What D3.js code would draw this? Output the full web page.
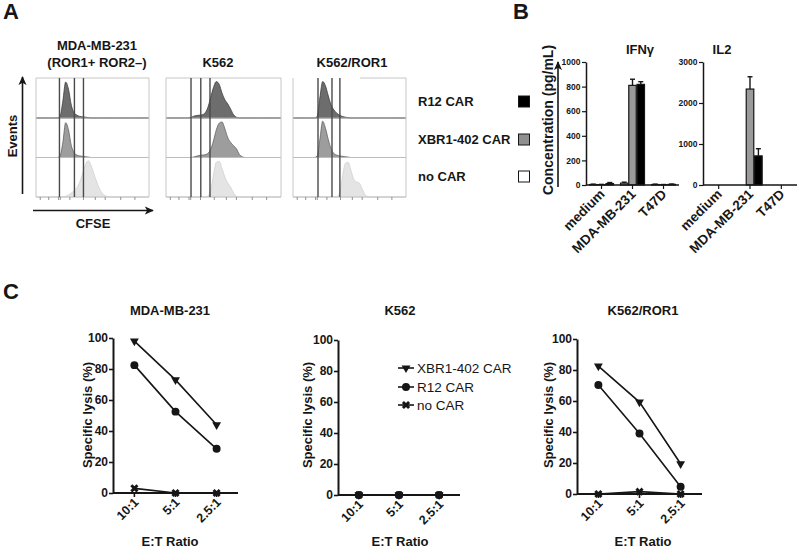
<!DOCTYPE html>
<html><head><meta charset="utf-8">
<script src="https://cdn.jsdelivr.net/npm/d3@7"></script>
<style>
body{margin:0;background:#fff}
svg{display:block}
</style></head><body>
<svg id="c" width="800" height="548"></svg>
<script>
// ================= DATA =================
// Panel A: CFSE dilution histograms (relative events per bin, 40 bins along CFSE axis)
const histTargets = ["MDA-MB-231", "K562", "K562/ROR1"];
const histRowLabels = ["R12 CAR", "XBR1-402 CAR", "no CAR"];
const histMDA_R12   = [0,0,0,0,0,0,0,0,0.04,0.42, 0.9,0.72,0.32,0.13,0.07,0.04,0.03,0.02,0.01,0, 0,0,0,0,0,0,0,0,0,0, 0,0,0,0,0,0,0,0,0,0];
const histMDA_XBR1  = [0,0,0,0,0,0,0,0,0.04,0.38, 0.88,0.7,0.3,0.12,0.06,0.04,0.03,0.02,0.01,0, 0,0,0,0,0,0,0,0,0,0, 0,0,0,0,0,0,0,0,0,0];
const histMDA_noCAR = [0,0,0,0,0,0,0,0,0,0, 0.02,0.05,0.1,0.16,0.24,0.38,0.6,0.82,0.92,0.8, 0.58,0.38,0.2,0.09,0.03,0.01,0,0,0,0, 0,0,0,0,0,0,0,0,0,0];
const histK562_R12  = [0,0,0,0,0,0,0,0,0.01,0.04, 0.06,0.07,0.08,0.12,0.25,0.5,0.76,0.91,0.84,0.62, 0.45,0.35,0.22,0.08,0.02,0,0,0,0,0, 0,0,0,0,0,0,0,0,0,0];
const histK562_XBR1 = [0,0,0,0,0,0,0,0,0,0.01, 0.03,0.05,0.06,0.07,0.1,0.2,0.42,0.7,0.87,0.9, 0.72,0.5,0.38,0.3,0.22,0.08,0.02,0,0,0, 0,0,0,0,0,0,0,0,0,0];
const histK562_noCAR= [0,0,0,0,0,0,0,0,0,0, 0,0,0,0,0.02,0.15,0.55,0.88,0.9,0.72, 0.5,0.35,0.25,0.1,0.02,0,0,0,0,0, 0,0,0,0,0,0,0,0,0,0];
const histROR1_R12  = [0,0,0,0,0,0,0,0,0.03,0.5, 0.91,0.8,0.55,0.32,0.2,0.12,0.07,0.04,0.02,0.01, 0,0,0,0,0,0,0,0,0,0, 0,0,0,0,0,0,0,0,0,0];
const histROR1_XBR1 = [0,0,0,0,0,0,0,0,0.03,0.45, 0.92,0.74,0.45,0.22,0.1,0.06,0.04,0.03,0.02,0.01, 0,0,0,0,0,0,0,0,0,0, 0,0,0,0,0,0,0,0,0,0];
const histROR1_noCAR= [0,0,0,0,0,0,0,0,0,0, 0,0,0,0,0,0.01,0.1,0.5,0.85,0.88, 0.68,0.45,0.38,0.35,0.2,0.06,0.01,0,0,0, 0,0,0,0,0,0,0,0,0,0];
const gatesMDA  = [8.3, 13.6, 16.8];
const gatesK562 = [8.7, 12.1, 15.3];
const gatesROR1 = [8.85, 13.8, 16.6];
const cfseTicks = [1.5, 4.5, 8.0, 8.6, 12, 16.8, 21, 24.5, 30, 35];

// Panel B: cytokine release (pg/mL)
const cytoCats = ["medium", "MDA-MB-231", "T47D"];
const cytoSeries = ["no CAR", "XBR1-402 CAR", "R12 CAR"];
const ifngNoCAR = [4, 15, 4];
const ifngXBR1  = [3, 810, 2];
const ifngR12   = [12, 818, 5];
const ifngErrNoCAR = [3, 8, 3];
const ifngErrXBR1  = [2, 50, 2];
const ifngErrR12   = [8, 22, 3];
const il2NoCAR = [0, 0, 0];
const il2XBR1  = [0, 2340, 0];
const il2R12   = [0, 710, 0];
const il2ErrNoCAR = [0, 0, 0];
const il2ErrXBR1  = [0, 300, 0];
const il2ErrR12   = [0, 175, 0];
const ifngTicks = [0, 200, 400, 600, 800, 1000];
const il2Ticks = [0, 1000, 2000, 3000];

// Panel C: specific lysis (%)
const etRatios = ["10:1", "5:1", "2.5:1"];
const lysisTicks = [0, 20, 40, 60, 80, 100];
const lysisMDA_XBR1  = [98, 73, 44];
const lysisMDA_R12   = [82.5, 52.5, 28.5];
const lysisMDA_noCAR = [3, 0, 0];
const lysisK562_XBR1  = [0, 0, 0];
const lysisK562_R12   = [0, 0, 0];
const lysisK562_noCAR = [0, 0, 0];
const lysisROR1_XBR1  = [82.5, 59.3, 19.5];
const lysisROR1_R12   = [70.3, 39, 4.7];
const lysisROR1_noCAR = [0, 1.5, 0];

// ================= DRAWING =================
const F = '"Liberation Sans", Arial, Helvetica, sans-serif';
const svg = d3.select("#c");
const INK = "#161616";

function label(x, y, s, size, weight = "bold", anchor = "middle", rot = 0) {
  const t = svg.append("text").attr("font-family", F).attr("font-size", size)
    .attr("font-weight", weight).attr("text-anchor", anchor).attr("fill", INK).text(s);
  if (rot) t.attr("transform", `translate(${x},${y}) rotate(${rot})`);
  else t.attr("x", x).attr("y", y);
  return t;
}

const defs = svg.append("defs");
defs.append("marker").attr("id", "ah").attr("viewBox", "0 0 10 10")
  .attr("refX", 9).attr("refY", 5).attr("markerWidth", 9).attr("markerHeight", 9)
  .attr("markerUnits", "userSpaceOnUse").attr("orient", "auto")
  .append("path").attr("d", "M0,0.5 L10,5 L0,9.5 L2.5,5 Z").attr("fill", INK);

// Panel letters
label(3, 19, "A", 22, "bold", "start");
label(513, 19, "B", 22, "bold", "start");
label(3, 299, "C", 22, "bold", "start");

// ---------- Panel A ----------
const rowY = [78, 118, 157.5, 197];
const rowFill = ["#6d6d6d", "#9d9d9d", "#e4e4e4"];
const rowStroke = ["#3e3e3e", "#636363", "#d0d0d0"];
const histPanels = [
  { x0: 36, x1: 149, rows: [histMDA_R12, histMDA_XBR1, histMDA_noCAR], gates: gatesMDA, topFrom: 36 },
  { x0: 166, x1: 281, rows: [histK562_R12, histK562_XBR1, histK562_noCAR], gates: gatesK562, topFrom: 166 },
  { x0: 293, x1: 406, rows: [histROR1_R12, histROR1_XBR1, histROR1_noCAR], gates: gatesROR1, topFrom: 360 }
];
histPanels.forEach((p, pi) => {
  const x = d3.scaleLinear().domain([0, 40]).range([p.x0, p.x1]);
  const g = svg.append("g");
  p.rows.forEach((arr, r) => {
    const y = d3.scaleLinear().domain([0, 1]).range([rowY[r + 1], rowY[r]]);
    const pts = [[0, 0]].concat(arr.map((v, i) => [i + 0.5, v]), [[40, 0]]);
    const area = d3.area().x(d => x(d[0])).y0(y(0)).y1(d => y(d[1])).curve(d3.curveMonotoneX);
    g.append("path").attr("d", area(pts)).attr("fill", rowFill[r])
      .attr("stroke", rowStroke[r]).attr("stroke-width", 0.8);
  });
  const bc = "#c6c6c6";
  g.append("line").attr("x1", p.topFrom).attr("x2", p.x1).attr("y1", rowY[0]).attr("y2", rowY[0]).attr("stroke", bc);
  [1, 2].forEach(k => g.append("line").attr("x1", p.x0).attr("x2", p.x1).attr("y1", rowY[k]).attr("y2", rowY[k]).attr("stroke", "#bdbdbd"));
  g.append("line").attr("x1", p.x0).attr("x2", p.x1).attr("y1", rowY[3]).attr("y2", rowY[3]).attr("stroke", bc);
  g.append("line").attr("x1", p.x0).attr("x2", p.x0).attr("y1", rowY[0]).attr("y2", rowY[3]).attr("stroke", bc);
  g.append("line").attr("x1", p.x1).attr("x2", p.x1).attr("y1", rowY[0]).attr("y2", rowY[3]).attr("stroke", bc);
  p.gates.forEach(gv => g.append("line").attr("x1", x(gv)).attr("x2", x(gv))
    .attr("y1", rowY[0]).attr("y2", rowY[3]).attr("stroke", "#4a4a4a").attr("stroke-width", 1.4));
  cfseTicks.forEach(t => g.append("line").attr("x1", x(t)).attr("x2", x(t))
    .attr("y1", rowY[3]).attr("y2", rowY[3] + 3).attr("stroke", "#777").attr("stroke-width", 0.8));
});
label(97, 50, "MDA-MB-231", 13);
label(97, 67, "(ROR1+ ROR2\u2013)", 13);
label(218, 67, "K562", 13);
label(352, 67, "K562/ROR1", 13);
label(17, 136, "Events", 13, "bold", "middle", -90);
svg.append("line").attr("x1", 22.5).attr("x2", 22.5).attr("y1", 194).attr("y2", 77)
  .attr("stroke", INK).attr("stroke-width", 1.6).attr("marker-end", "url(#ah)");
svg.append("line").attr("x1", 33).attr("x2", 153).attr("y1", 210.5).attr("y2", 210.5)
  .attr("stroke", INK).attr("stroke-width", 1.6).attr("marker-end", "url(#ah)");
label(93, 228, "CFSE", 13);

// legend (rows of panel A / bars of panel B)
const legendLabels = ["R12 CAR", "XBR1-402 CAR", "no CAR"];
const legendFills = ["#000", "#8f8f8f", "#fff"];
const legendY = [96, 134, 171];
legendLabels.forEach((s, i) => {
  label(418, legendY[i] + 10, s, 13, "bold", "start");
  svg.append("rect").attr("x", 518.5).attr("y", legendY[i]).attr("width", 11).attr("height", 11)
    .attr("fill", legendFills[i]).attr("stroke", INK).attr("stroke-width", 1);
});

// ---------- Panel B ----------
const seriesFill = ["#fff", "#9a9a9a", "#000"];
function barChart(o) {
  const g = svg.append("g");
  const y = d3.scaleLinear().domain([0, o.max]).range([185, 62]);
  const xb = d3.scaleBand().domain(cytoCats).range([o.x0, o.x1]);
  const xs = d3.scaleBand().domain(cytoSeries).range([3.5, xb.bandwidth() - 3.5]).paddingInner(0.1);
  cytoSeries.forEach((s, si) => {
    o.vals[si].forEach((v, ci) => {
      const bx = xb(cytoCats[ci]) + xs(s);
      if (v > 0) {
        g.append("rect").attr("x", bx).attr("y", y(v)).attr("width", xs.bandwidth())
          .attr("height", Math.max(0.01, y(0) - y(v))).attr("fill", seriesFill[si])
          .attr("stroke", INK).attr("stroke-width", 1.2);
      }
      const e = o.errs[si][ci];
      if (e > 0) {
        const cx = bx + xs.bandwidth() / 2;
        g.append("line").attr("x1", cx).attr("x2", cx).attr("y1", y(v)).attr("y2", y(v + e))
          .attr("stroke", INK).attr("stroke-width", 1.4);
        g.append("line").attr("x1", cx - 2.5).attr("x2", cx + 2.5).attr("y1", y(v + e)).attr("y2", y(v + e))
          .attr("stroke", INK).attr("stroke-width", 1.4);
      }
    });
  });
  const ax = g.append("g").attr("transform", `translate(${o.x0},0)`)
    .call(d3.axisLeft(y).tickValues(o.ticks).tickSize(4).tickPadding(1.5).tickSizeOuter(0).tickFormat(d3.format("d")));
  ax.select(".domain").attr("stroke", INK).attr("stroke-width", 1.5);
  ax.selectAll(".tick line").attr("stroke", INK).attr("stroke-width", 1.2);
  ax.selectAll(".tick text").attr("font-family", F).attr("font-size", 8.5).attr("font-weight", "bold").attr("fill", INK);
  g.append("line").attr("x1", o.x0).attr("x2", o.x1).attr("y1", 185).attr("y2", 185)
    .attr("stroke", INK).attr("stroke-width", 1.5);
  cytoCats.forEach(c => {
    const cx = xb(c) + xb.bandwidth() / 2;
    g.append("line").attr("x1", cx).attr("x2", cx).attr("y1", 185).attr("y2", 189).attr("stroke", INK).attr("stroke-width", 1.2);
    label(cx + 4, 195, c, 13.5, "bold", "end", -45);
  });
  label(o.titleX, 54, o.title, 13);
}
barChart({ x0: 586, x1: 679, max: 1000, ticks: ifngTicks, title: "IFN\u03b3", titleX: 640,
  vals: [ifngNoCAR, ifngXBR1, ifngR12], errs: [ifngErrNoCAR, ifngErrXBR1, ifngErrR12] });
barChart({ x0: 703, x1: 797, max: 3000, ticks: il2Ticks, title: "IL2", titleX: 722,
  vals: [il2NoCAR, il2XBR1, il2R12], errs: [il2ErrNoCAR, il2ErrXBR1, il2ErrR12] });
label(553, 120, "Concentration (pg/mL)", 14, "bold", "middle", -90);
svg.append("line").attr("x1", 558).attr("x2", 558).attr("y1", 187).attr("y2", 62)
  .attr("stroke", INK).attr("stroke-width", 1.6).attr("marker-end", "url(#ah)");

// ---------- Panel C ----------
const symTri = d3.symbol().type(d3.symbolTriangle).size(34);
const symCirc = d3.symbol().type(d3.symbolCircle).size(50);
const symX = d3.symbol().type(d3.symbolCross).size(42);
const seriesC = [
  { name: "XBR1-402 CAR", path: symTri(), rot: 180 },
  { name: "R12 CAR", path: symCirc(), rot: 0 },
  { name: "no CAR", path: symX(), rot: 45 }
];
function lysisChart(o) {
  const g = svg.append("g");
  const y = d3.scaleLinear().domain([0, 100]).range([o.y0, o.y100]);
  const x = d3.scalePoint().domain(etRatios).range([o.ax, o.xEnd]).padding(0.52);
  const ay = g.append("g").attr("transform", `translate(${o.ax},0)`)
    .call(d3.axisLeft(y).tickValues(lysisTicks).tickSize(4).tickPadding(1).tickSizeOuter(0));
  ay.select(".domain").attr("stroke", INK).attr("stroke-width", 2);
  ay.selectAll(".tick line").attr("stroke", INK).attr("stroke-width", 1.6);
  ay.selectAll(".tick text").attr("font-family", F).attr("font-size", 12).attr("font-weight", "bold").attr("fill", INK);
  g.append("line").attr("x1", o.ax).attr("x2", o.xEnd).attr("y1", o.y0).attr("y2", o.y0)
    .attr("stroke", INK).attr("stroke-width", 2);
  etRatios.forEach(r => {
    g.append("line").attr("x1", x(r)).attr("x2", x(r)).attr("y1", o.y0).attr("y2", o.y0 + 4)
      .attr("stroke", INK).attr("stroke-width", 1.6);
    label(x(r) + 5, o.y0 + 10, r, 12.5, "bold", "end", -45);
  });
  const line = d3.line().x((d, i) => x(etRatios[i])).y(d => y(d));
  [2, 1, 0].forEach(si => {
    const vals = o.series[si];
    g.append("path").attr("d", line(vals)).attr("fill", "none").attr("stroke", INK).attr("stroke-width", 1.6);
    vals.forEach((v, i) => {
      g.append("path").attr("d", seriesC[si].path)
        .attr("transform", `translate(${x(etRatios[i])},${y(v)}) rotate(${seriesC[si].rot})`)
        .attr("fill", INK);
    });
  });
  label(o.titleX, 315, o.title, 13);
  label(o.ylabX, 415, "Specific lysis (%)", 13, "bold", "middle", -90);
  label(o.titleX, 546, "E:T Ratio", 13);
}
lysisChart({ ax: 113, xEnd: 238, y0: 493, y100: 338, title: "MDA-MB-231", titleX: 170, ylabX: 92,
  series: [lysisMDA_XBR1, lysisMDA_R12, lysisMDA_noCAR] });
lysisChart({ ax: 338, xEnd: 460, y0: 495, y100: 340, title: "K562", titleX: 400, ylabX: 312,
  series: [lysisK562_XBR1, lysisK562_R12, lysisK562_noCAR] });
lysisChart({ ax: 577, xEnd: 702, y0: 494, y100: 339, title: "K562/ROR1", titleX: 643, ylabX: 553,
  series: [lysisROR1_XBR1, lysisROR1_R12, lysisROR1_noCAR] });

const legY = [368, 387, 405];
seriesC.forEach((s, i) => {
  svg.append("line").attr("x1", 398).attr("x2", 414).attr("y1", legY[i]).attr("y2", legY[i])
    .attr("stroke", INK).attr("stroke-width", 1.6);
  svg.append("path").attr("d", s.path).attr("transform", `translate(406,${legY[i]}) rotate(${s.rot})`).attr("fill", INK);
  label(417, legY[i] + 5, s.name, 13.5, "normal", "start");
});
</script>
</body></html>
